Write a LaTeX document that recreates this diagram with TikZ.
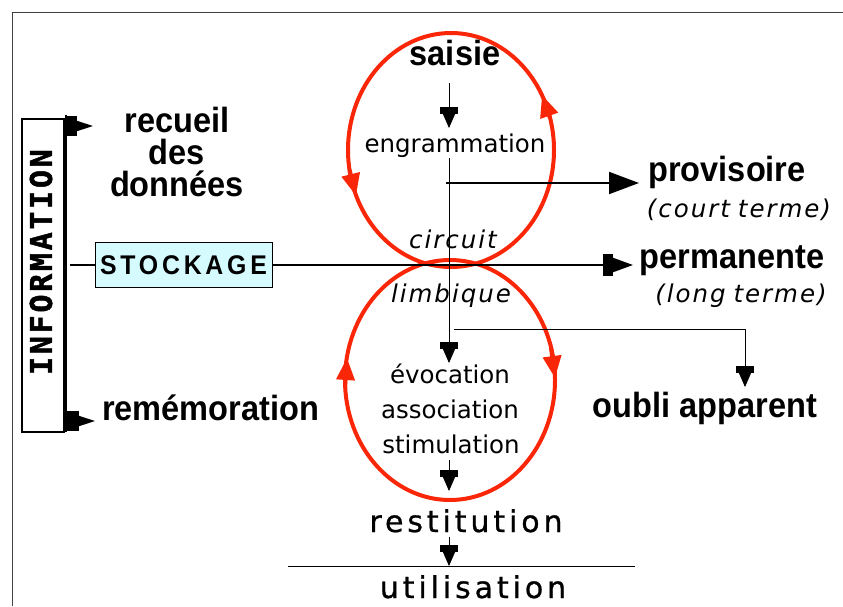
\documentclass[tikz,border=0pt]{standalone}
\usepackage{fontspec}
\setmainfont{DejaVu Sans}
\newfontfamily\lsans{Liberation Sans}[FakeStretch=0.93]
\newfontfamily\stockf{Liberation Sans}[LetterSpace=14,FakeStretch=0.92]
\newfontfamily\spacedf{DejaVu Sans}[LetterSpace=13,FakeBold=0.8]
\newfontfamily\itf{DejaVu Sans}[LetterSpace=8]
\newfontfamily\monof{DejaVu Sans Mono}[LetterSpace=9,FakeBold=1.5]
\usetikzlibrary{arrows.meta}
\definecolor{cred}{RGB}{250,38,8}
\definecolor{stockfill}{RGB}{214,251,255}
\begin{document}
\begin{tikzpicture}[x=1pt,y=-1pt,
  lbl/.style={inner sep=0pt, anchor=base},
  boldlbl/.style={lbl, font=\lsans\bfseries\fontsize{35}{37}\selectfont},
  reglbl/.style={lbl, font=\fontsize{24.5}{28}\selectfont},
  itlbl/.style={lbl, font=\itf\itshape\fontsize{24.5}{28}\selectfont},
  spacedlbl/.style={lbl, font=\spacedf\fontsize{30}{32}\selectfont},
  thinln/.style={draw=black, line width=0.9pt},
  thickln/.style={draw=black, line width=2pt},
  hammer/.style={-{Rectangle[length=7pt,width=18pt,sep=0pt]Triangle[length=14pt,width=12pt]}},
  bigtri/.style={-{Triangle[length=30pt,width=22pt]}},
  steparrow/.style={-{Rectangle[length=10pt,width=22pt,sep=0pt]Triangle[length=20pt,width=14pt]}},
  smallstep/.style={-{Rectangle[length=12pt,width=20pt,sep=0pt]Triangle[length=16pt,width=10pt]}},
  redtip/.style={draw=cred, line width=4pt, -{Triangle[length=22pt,width=18pt]}},
  redloop/.style={draw=cred, line width=4pt}
]
\useasboundingbox (0,0) rectangle (843,606);
% frame
\draw[draw=black!75, line width=1.5pt] (12.5,606) -- (12.5,12.5) -- (843,12.5);

% red loops
\draw[redloop] (451,150) ellipse [x radius=103pt, y radius=117pt];
\draw[redloop] (450,380) ellipse [x radius=105pt, y radius=120pt];
\draw[redtip] (349.6,170) -- (356,195.7);
\draw[redtip] (550,118) -- (542,95);
\draw[redtip] (345,388) -- (347,358);
\draw[redtip] (551,348) -- (555,378);

% INFORMATION box
\node[draw=black, line width=2pt, fill=white, minimum width=42pt, minimum height=313pt, inner sep=0pt] (infobox) at (43,275.5) {};
\node[rotate=90, inner sep=0pt, font=\monof\bfseries\fontsize{30}{30}\selectfont] (info) at (41,262) {INFORMATION};

% labels
\node[boldlbl] (saisie) at (455,65) {saisie};
\node[reglbl] (engr) at (455,152) {engrammation};
\node[itlbl] (circuit) at (453,248) {circuit};
\node[itlbl] (limbique) at (451,302) {limbique};
\node[reglbl] (evoc) at (450,383) {évocation};
\node[reglbl] (assoc) at (450,418) {association};
\node[reglbl] (stim) at (451,453) {stimulation};
\node[spacedlbl] (restit) at (466,532) {restitution};
\node[spacedlbl] (util) at (473,598) {utilisation};
\node[inner sep=0pt, anchor=north, align=center, font=\lsans\bfseries\fontsize{35}{32}\selectfont]
  (recueil) at (177,107) {recueil\\des\\données};
\node[boldlbl, anchor=base west] (rememo) at (102,420) {remémoration};
\node[boldlbl] (provis) at (727,181) {provisoire};
\node[itlbl] (court) at (739,217) {(court\hspace{8pt}terme)};
\node[boldlbl] (perman) at (732,268) {permanente};
\node[itlbl] (long) at (741,302) {(long\hspace{8pt}terme)};
\node[boldlbl] (oubli) at (705,417) {oubli apparent};

% STOCKAGE
\node[draw=black, fill=stockfill, line width=1pt, minimum width=177pt, minimum height=45pt, inner sep=0pt,
      font=\stockf\bfseries\fontsize{27}{29}\selectfont] (stock) at (183.5,265) {STOCKAGE};

% coordinates
\coordinate (bt) at (66,115);
\coordinate (bb) at (66,432);
\coordinate (ba) at (66,126);
\coordinate (bz) at (66,421);
\coordinate (rtip) at (93,126);
\coordinate (mtip) at (95,421);
\coordinate (s0) at (70,265);
\coordinate (ptip) at (633,265);
\coordinate (v0) at (449,83);
\coordinate (v1) at (449,128);
\coordinate (v2) at (449,158);
\coordinate (v3) at (449,363);
\coordinate (h0) at (446,183);
\coordinate (h1) at (639,183);
\coordinate (o0) at (454,329);
\coordinate (o1) at (745,329);
\coordinate (o2) at (745,387);
\coordinate (w0) at (449,460);
\coordinate (w1) at (449,491);
\coordinate (u0) at (449,537);
\coordinate (u1) at (449,566);
\coordinate (l0) at (288,566);
\coordinate (l1) at (635,566);

% connectors
\draw[black, line width=1.5pt] (bt) -- (bb);
\draw[black, line width=1.5pt, smallstep] (ba) -- (rtip);
\draw[black, line width=1.5pt, smallstep] (bz) -- (mtip);
\draw[thickln] (s0) -- (stock);
\draw[thickln, steparrow] (stock) -- (ptip);
\draw[thinln, hammer] (v0) -- (v1);
\draw[thinln, hammer] (v2) -- (v3);
\draw[thickln, bigtri] (h0) -- (h1);
\draw[thinln, hammer] (o0) -- (o1) -- (o2);
\draw[thinln, hammer] (w0) -- (w1);
\draw[thinln, hammer] (u0) -- (u1);
\draw[thinln] (l0) -- (l1);
\end{tikzpicture}
\end{document}
